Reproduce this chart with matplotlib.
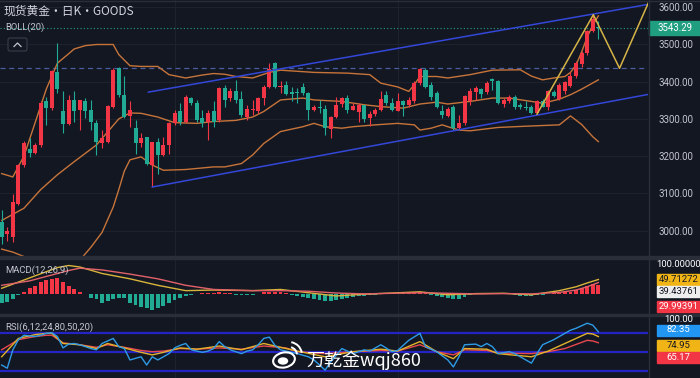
import numpy as np
import matplotlib.pyplot as plt
import matplotlib.transforms as mtrans
from matplotlib.patches import Rectangle, FancyBboxPatch, Ellipse, Arc

plt.rcParams['font.family'] = ['Roboto', 'Noto Sans CJK SC', 'DejaVu Sans']

# ---- daily candles (index 0..107) ----
opens = [3023, 2990, 2982, 3072, 3176, 3220, 3209, 3230, 3347, 3329,
         3425, 3320, 3286, 3350, 3324, 3347, 3324, 3288, 3235, 3239,
         3333, 3437, 3365, 3308, 3275, 3236, 3252, 3176, 3239, 3203,
         3230, 3288, 3320, 3293, 3356, 3342, 3302, 3293, 3320, 3297,
         3383, 3356, 3374, 3354, 3306, 3324, 3322, 3356, 3386, 3450,
         3386, 3392, 3371, 3372, 3386, 3369, 3324, 3333, 3327, 3272,
         3304, 3340, 3356, 3324, 3318, 3338, 3302, 3313, 3324, 3365,
         3344, 3322, 3349, 3338, 3347, 3396, 3432, 3390, 3369, 3320,
         3308, 3332, 3276, 3288, 3347, 3371, 3380, 3371, 3407, 3401,
         3340, 3349, 3358, 3338, 3332, 3333, 3315, 3349, 3333, 3371,
         3353, 3374, 3389, 3416, 3448, 3477, 3536, 3546]
highs = [3054, 3010, 3099, 3180, 3240, 3248, 3236, 3347, 3360, 3432,
         3504, 3374, 3365, 3374, 3351, 3356, 3351, 3297, 3270, 3338,
         3437, 3440, 3414, 3347, 3297, 3261, 3252, 3239, 3248, 3252,
         3293, 3324, 3342, 3365, 3360, 3351, 3324, 3324, 3347, 3387,
         3392, 3383, 3405, 3374, 3338, 3351, 3360, 3392, 3450, 3452,
         3401, 3401, 3387, 3383, 3396, 3371, 3338, 3351, 3338, 3308,
         3360, 3360, 3365, 3342, 3342, 3338, 3320, 3329, 3374, 3374,
         3356, 3369, 3351, 3360, 3401, 3437, 3437, 3400, 3374, 3338,
         3333, 3338, 3311, 3365, 3383, 3389, 3383, 3401, 3410, 3405,
         3356, 3365, 3365, 3344, 3347, 3338, 3351, 3353, 3378, 3378,
         3396, 3401, 3425, 3455, 3482, 3539, 3581, 3563]
lows = [2964, 2972, 2968, 3068, 3170, 3198, 3205, 3225, 3284, 3325,
        3370, 3261, 3284, 3293, 3270, 3302, 3270, 3203, 3221, 3234,
        3329, 3360, 3302, 3279, 3207, 3225, 3176, 3117, 3153, 3200,
        3205, 3284, 3284, 3288, 3338, 3293, 3279, 3243, 3279, 3293,
        3333, 3347, 3342, 3306, 3296, 3311, 3315, 3338, 3383, 3383,
        3370, 3365, 3347, 3342, 3365, 3297, 3320, 3315, 3257, 3248,
        3302, 3333, 3315, 3324, 3293, 3293, 3281, 3308, 3320, 3338,
        3320, 3320, 3308, 3333, 3344, 3392, 3383, 3350, 3329, 3302,
        3305, 3270, 3272, 3284, 3338, 3351, 3356, 3368, 3378, 3340,
        3332, 3344, 3326, 3326, 3323, 3314, 3313, 3332, 3323, 3358,
        3351, 3368, 3386, 3410, 3440, 3473, 3533, 3514]
closes = [2982, 2998, 3077, 3176, 3236, 3209, 3230, 3342, 3329, 3428,
          3380, 3286, 3350, 3320, 3350, 3320, 3293, 3239, 3248, 3335,
          3432, 3365, 3306, 3324, 3234, 3250, 3180, 3239, 3203, 3230,
          3290, 3315, 3293, 3360, 3344, 3297, 3288, 3317, 3293, 3383,
          3351, 3374, 3351, 3311, 3326, 3326, 3356, 3386, 3434, 3386,
          3389, 3368, 3367, 3370, 3369, 3324, 3333, 3329, 3275, 3304,
          3338, 3356, 3324, 3335, 3337, 3299, 3313, 3324, 3353, 3342,
          3324, 3347, 3338, 3351, 3396, 3434, 3387, 3358, 3333, 3311,
          3326, 3275, 3288, 3362, 3374, 3383, 3368, 3396, 3403, 3342,
          3351, 3358, 3333, 3333, 3329, 3315, 3347, 3333, 3374, 3362,
          3392, 3398, 3416, 3450, 3477, 3536, 3568, 3543.29]
last_price = 3543.29

# ---- BOLL(20) bands, sampled off the chart ----
up_i = [0, 2, 4, 6, 8, 10, 12, 13, 15, 17, 20, 21, 23, 25, 28, 30, 33, 36, 38, 40,
        42, 45, 48, 50, 56, 62, 66, 68, 71, 73, 74, 75, 78, 80, 84, 88, 93, 95, 97,
        99, 101, 102, 103, 104, 105, 106, 107]
up_v = [3153, 3144, 3200, 3290, 3380, 3450, 3475, 3488, 3497, 3500, 3500, 3473, 3443,
        3441, 3441, 3419, 3410, 3418, 3422, 3420, 3414, 3410, 3425, 3431, 3425, 3423,
        3419, 3396, 3386, 3374, 3392, 3414, 3414, 3410, 3419, 3431, 3432, 3415, 3405,
        3410, 3414, 3425, 3445, 3480, 3520, 3552, 3577]
mid_i = [0, 4, 7, 10, 13, 17, 19, 21, 23, 25, 28, 31, 35, 38, 42, 45, 47, 50, 54, 56,
         61, 65, 68, 72, 75, 78, 80, 84, 88, 91, 95, 97, 100, 102, 104, 107]
mid_v = [3027, 3060, 3110, 3150, 3185, 3230, 3265, 3300, 3316, 3315, 3305, 3290, 3288,
         3293, 3296, 3305, 3320, 3351, 3356, 3351, 3347, 3338, 3333, 3329, 3340, 3345,
         3340, 3347, 3356, 3356, 3347, 3342, 3353, 3365, 3380, 3405]
low_i = [0, 2, 4, 6, 9, 12, 14, 16, 18, 20, 21, 22, 23, 25, 27, 29, 33, 38, 40, 43,
         45, 47, 50, 54, 56, 58, 61, 63, 67, 71, 74, 75, 77, 79, 80, 82, 84, 89, 95,
         100, 102, 104, 106, 107]
low_v = [2950, 2942, 2930, 2900, 2860, 2885, 2920, 2955, 2995, 3063, 3110, 3160, 3190,
         3198, 3176, 3162, 3164, 3171, 3171, 3180, 3203, 3234, 3266, 3279, 3288, 3279,
         3275, 3279, 3284, 3288, 3284, 3270, 3275, 3284, 3279, 3270, 3268, 3277, 3281,
         3284, 3308, 3285, 3252, 3239]

# ---- drawn objects: channel, zigzag, level ----
ch_up_i, ch_up_v = [26.3, 116], [3372, 3608]
ch_lo_i, ch_lo_v = [27, 116], [3117, 3366]
zz_i = [96, 106.1, 110.8, 116.2]
zz_v = [3313, 3580, 3436, 3620]
level = 3436

# ---- MACD(12,26,9) ----
hist = [-30, -25, -15, -4, 9, 20, 29, 41, 47, 52, 55, 41, 27, 18, 9, 2, -14, -17, -29, -23,
        -17, -14, -12, -29, -37, -44, -48, -52, -48, -40, -29, -21, -14, -6, -2, 2, 3, 4, 5, 6,
        5, 3, -2, -4, -3, -2, 2, 6, 8, 7, 6, 4, -3, -7, -11, -14, -17, -21, -23, -23,
        -20, -17, -12, -8, -6, -5, -4, -3, 2, 4, 3, 2, 3, 4, 6, 8, 5, -3, -6, -9,
        -12, -16, -15, -10, -4, 3, 4, 5, 5, 3, 2, 2, -3, -5, -6, -5, -4, -2, 2, 4,
        5, 7, 9, 15, 21, 27, 35, 30]
macd_i = [0, 5, 10, 12, 14, 18, 23, 28, 33, 38, 45, 50, 55, 60, 65, 70, 75, 80, 85, 90,
          95, 100, 103, 105, 107]
dif_v = [20, 55, 90, 97, 92, 70, 52, 30, 12, 14, 12, 16, 5, -6, 0, 4, 8, -2, 2, 3,
         -2, 12, 25, 38, 49.7]
dea_v = [30, 45, 70, 80, 88, 82, 68, 52, 30, 16, 12, 12, 10, 4, 1, 3, 5, 3, 1, 2,
         1, 6, 14, 25, 39.4]

# ---- RSI(6,12,24) ----
rsi6_i = [0, 1, 2, 3, 4, 6, 7, 8, 9, 10, 11, 12, 13, 14, 16, 17, 18, 20, 21, 22, 23, 25,
          26, 27, 28, 30, 31, 32, 33, 34, 36, 37, 38, 39, 40, 41, 43, 44, 45, 46, 47, 48,
          49, 50, 51, 53, 55, 56, 58, 59, 61, 63, 65, 66, 68, 70, 71, 73, 75, 76, 78, 80,
          81, 82, 83, 85, 86, 87, 88, 89, 91, 92, 93, 95, 96, 97, 99, 100, 102, 103, 104,
          105, 106, 107]
rsi6_v = [30, 25, 54, 70, 77, 75, 77, 80, 81, 75, 57, 63, 64, 62, 56, 54, 64, 72, 59, 56,
          38, 43, 30, 43, 38, 48, 57, 61, 64, 54, 50, 52, 56, 67, 59, 54, 48, 52, 54, 62,
          72, 74, 61, 54, 52, 48, 43, 38, 22, 35, 56, 48, 54, 52, 62, 51, 53, 69, 80, 59,
          51, 38, 27, 43, 62, 63, 59, 64, 59, 48, 51, 48, 43, 33, 48, 62, 70, 75, 85, 88,
          92, 96, 93, 82.35]
rsi_i = [0, 3, 6, 8, 9, 11, 14, 17, 19, 22, 25, 27, 29, 32, 35, 39, 43, 47, 51, 53, 58,
         63, 68, 71, 75, 78, 81, 83, 87, 89, 95, 98, 101, 105, 106, 107]
rsi12_v = [43, 72, 78, 80, 80, 64, 62, 56, 64, 57, 50, 46, 50, 57, 55, 60, 54, 64, 56, 52,
           43, 51, 55, 52, 67, 51, 40, 56, 55, 48, 43, 52, 64, 80, 79, 74.95]
rsi24_v = [54, 70, 75, 77, 77, 65, 62, 58, 62, 58, 53, 51, 52, 56, 55, 57, 55, 60, 57, 51,
           48, 51, 53, 52, 62, 51, 46, 54, 53, 49, 48, 51, 56, 69, 68, 65.17]
rsi_levels = [80, 50, 20]

BG = '#131722'
GRID = '#1e222d'
SEP = '#2a2e39'
TXT = '#c3c6ce'
RED = '#f23645'
GREEN = '#22ab94'
BOLL = '#c7743a'
XLIM = (-0.3, 115.9)

fig = plt.figure(figsize=(7, 3.78), dpi=100, facecolor=BG)
W, H = 700, 378


def px_axes(y0, y1):
    # panel between pixel rows y0..y1, plot area 648 px wide
    a = fig.add_axes([0, 1 - y1 / H, 648 / W, (y1 - y0) / H])
    a.set_facecolor(BG)
    a.set_xlim(*XLIM)
    a.set_xticks([])
    for s in a.spines.values():
        s.set_visible(False)
    for gx in (31, 71):
        a.axvline(gx, color=GRID, lw=0.8, zorder=0)
    return a


# ---------- main price panel ----------
ax = px_axes(0, 256)
ax.set_ylim(2931.5, 3619.6)
ax.set_yticks(range(3000, 3601, 100))
ax.yaxis.tick_right()
ax.tick_params(axis='y', length=0, pad=7.5, labelsize=6.9, labelcolor=TXT)
ax.set_yticklabels([f'{v:.2f}' for v in range(3000, 3601, 100)])
ax.grid(axis='y', color=GRID, lw=0.8)
ax.set_axisbelow(True)

idx = np.arange(len(closes))
o, hi, lo, c = map(np.array, (opens, highs, lows, closes))
col = np.where(c >= o, RED, GREEN)
ax.vlines(idx, lo, hi, colors=col, lw=0.8, zorder=4)
ax.bar(idx, np.maximum(np.abs(c - o), 1.2), bottom=np.minimum(o, c), width=0.72,
       color=col, lw=0, zorder=5)

ax.plot(up_i, up_v, color=BOLL, lw=1.0, zorder=3)
ax.plot(mid_i, mid_v, color=BOLL, lw=1.0, zorder=3)
ax.plot(low_i, low_v, color=BOLL, lw=1.0, zorder=3)

ax.plot(ch_up_i, ch_up_v, color='#3347d8', lw=1.1, zorder=6)
ax.plot(ch_lo_i, ch_lo_v, color='#3347d8', lw=1.1, zorder=6)
ax.plot(zz_i, zz_v, color='#d6b447', lw=1.1, zorder=6)
ax.axhline(level, color='#4a5d9e', lw=0.9, ls=(0, (4, 3)), zorder=2)
ax.axhline(last_price, color='#2a9d84', lw=0.8, ls=(0, (1, 2)), zorder=2)

btrans = mtrans.blended_transform_factory(fig.transFigure, ax.transData)
ax.add_patch(Rectangle((649 / W, last_price - 19), 51 / W, 38, transform=btrans,
                       color='#1f9e80', clip_on=False, zorder=7))
ax.text(674.5 / W, last_price, f'{last_price:.2f}', transform=btrans, ha='center',
        va='center', fontsize=6.9, color='white', zorder=8)

# ---------- MACD panel ----------
am = px_axes(259, 314)
am.set_ylim(-67, 119)
am.set_yticks([])
am.bar(idx, hist, width=0.7, color=np.where(np.array(hist) >= 0, RED, GREEN), lw=0)
am.plot(macd_i, dif_v, color='#d8b43c', lw=1.0)
am.plot(macd_i, dea_v, color='#e2626a', lw=1.0)

# ---------- RSI panel ----------
ar = px_axes(316, 378)
ar.set_ylim(9.5, 107.4)
ar.set_yticks([])
for lv in rsi_levels:
    ar.axhline(lv, color='#2424c4', lw=1.6, zorder=1)
ar.plot(rsi_i, rsi24_v, color='#e8474f', lw=1.0, zorder=3)
ar.plot(rsi_i, rsi12_v, color='#e2b22c', lw=1.0, zorder=3)
ar.plot(rsi6_i, rsi6_v, color='#2e9be6', lw=1.0, zorder=4)

# ---------- overlay: separators, labels, watermark ----------
ov = fig.add_axes([0, 0, 1, 1], facecolor='none')
ov.set_xlim(0, W)
ov.set_ylim(H, 0)
ov.axis('off')
ov.add_patch(Rectangle((0, 256), W, 3, color=SEP))
ov.add_patch(Rectangle((0, 314), W, 2, color=SEP))
ov.plot([648.5, 648.5], [0, H], color=SEP, lw=1)
ov.plot([0, W], [0.5, 0.5], color=SEP, lw=1)

ov.text(4, 11, '现货黄金・日K・GOODS', fontsize=8.5, color='#d1d4dc', va='center',
        family=['Noto Sans CJK SC', 'DejaVu Sans'])
ov.text(5, 27, 'BOLL(20)', fontsize=6.8, color=TXT, va='center')
ov.text(5, 270, 'MACD(12,26,9)', fontsize=6.8, color=TXT, va='center')
ov.text(5, 327, 'RSI(6,12,24,80,50,20)', fontsize=6.8, color=TXT, va='center')

ov.add_patch(FancyBboxPatch((8, 38), 19, 13, boxstyle='round,pad=0,rounding_size=2',
                            fc=BG, ec='#3a3e4a', lw=0.8))
ov.plot([14, 17.5, 21], [46.5, 43, 46.5], color='#c3c6ce', lw=0.9)

labels = [('100.00000', 264.5, None, 'white'),
          ('49.71272', 279, '#f0b416', '#131722'),
          ('39.43761', 291.5, '#eeeeee', '#131722'),
          ('29.99391', 306.5, RED, 'white'),
          ('100.00', 319, None, 'white'),
          ('82.35', 330, '#2196f3', 'white'),
          ('74.95', 345, '#f0b416', '#131722'),
          ('65.17', 357.5, RED, 'white')]
for txt, yy, bg, fg in labels:
    if bg:
        ov.add_patch(Rectangle((657, yy - 5.5), 43, 11, color=bg))
    ov.text(678.5, yy, txt, ha='center', va='center', fontsize=6.8, color=fg)

# weibo mark + watermark text
ov.add_patch(Ellipse((284, 360), 22, 15, angle=-12, fill=False, ec='white', lw=1.5))
ov.add_patch(Ellipse((283, 361), 9, 6, color='white'))
ov.add_patch(Arc((289, 355), 16, 16, theta1=285, theta2=355, color='white', lw=1.4))
ov.add_patch(Arc((289, 355), 26, 26, theta1=280, theta2=350, color='white', lw=1.4))
ov.text(306, 360, '万乾金wqj860', fontsize=13, color='white', va='center',
        family=['Noto Sans CJK SC', 'DejaVu Sans'])

fig.savefig('out.png', dpi=100, facecolor=BG)
